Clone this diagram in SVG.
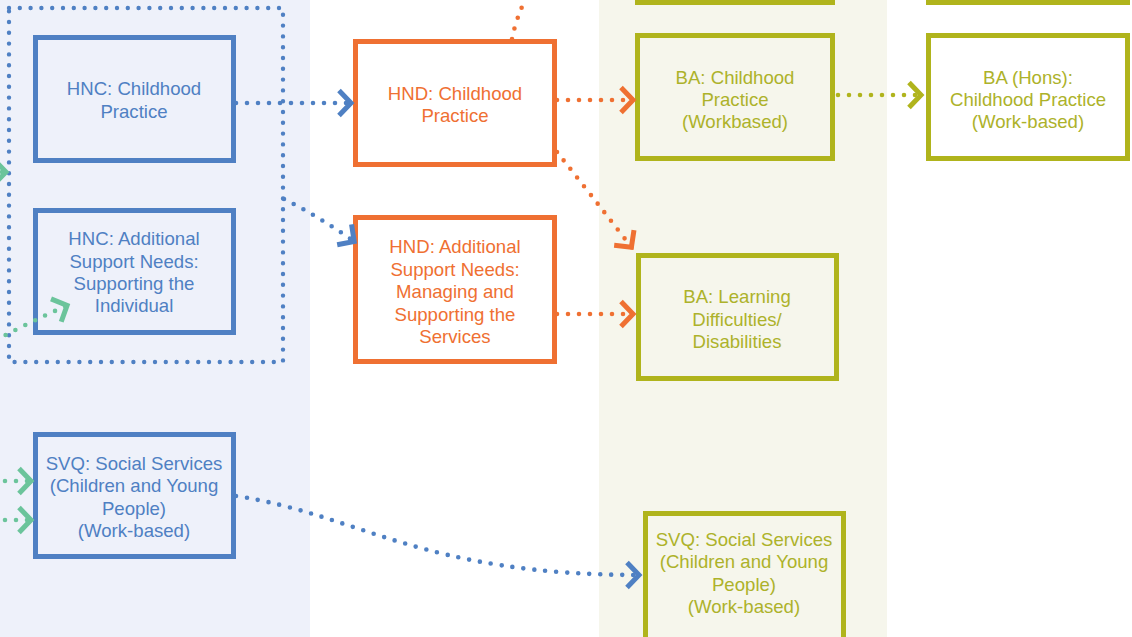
<svg xmlns="http://www.w3.org/2000/svg" width="1132" height="637" viewBox="0 0 1132 637">
<style>
text{font-family:"Liberation Sans",Arial,sans-serif;font-size:18.6px;text-anchor:middle}
.tb{fill:#4f80c3}.to{fill:#ef7032}.tg{fill:#adb22a}
.bb{fill:#eef1fa;stroke:#4f80c3;stroke-width:5}
.bo{fill:#fff;stroke:#ef7032;stroke-width:5}
.bg{fill:#f6f6ec;stroke:#b0b41c;stroke-width:5}
.bgw{fill:#fff;stroke:#b0b41c;stroke-width:5}
.d{fill:none;stroke-width:4.6;stroke-linecap:round;stroke-dasharray:0 11}
.cb{stroke:#4f80c3}.co{stroke:#ef7032}.cg{stroke:#b0b41c}.ct{stroke:#6bc49b}
</style>
<defs>
<marker id="ab" markerUnits="userSpaceOnUse" markerWidth="40" markerHeight="40" viewBox="-20 -20 40 40" refX="0" refY="0" orient="auto"><path d="M-13,-12.5 L-1,0 L-13,12.5" fill="none" stroke="#4f80c3" stroke-width="5"/></marker>
<marker id="ao" markerUnits="userSpaceOnUse" markerWidth="40" markerHeight="40" viewBox="-20 -20 40 40" refX="0" refY="0" orient="auto"><path d="M-13,-12.5 L-1,0 L-13,12.5" fill="none" stroke="#ef7032" stroke-width="5"/></marker>
<marker id="ag" markerUnits="userSpaceOnUse" markerWidth="40" markerHeight="40" viewBox="-20 -20 40 40" refX="0" refY="0" orient="auto"><path d="M-13,-12.5 L-1,0 L-13,12.5" fill="none" stroke="#b0b41c" stroke-width="5"/></marker>
<marker id="at" markerUnits="userSpaceOnUse" markerWidth="40" markerHeight="40" viewBox="-20 -20 40 40" refX="0" refY="0" orient="auto"><path d="M-13,-12.5 L-1,0 L-13,12.5" fill="none" stroke="#6bc49b" stroke-width="5"/></marker>
</defs>
<rect x="0" y="0" width="1132" height="637" fill="#fff"/>
<rect x="0" y="0" width="310" height="637" fill="#eef1fa"/>
<rect x="599" y="0" width="288" height="637" fill="#f6f6ec"/>
<g id="group-hnc"><rect x="9" y="8" width="274" height="354" fill="none" stroke="#4f80c3" stroke-width="4.4" stroke-linecap="round" stroke-dasharray="0 10.8"/></g>
<g id="top-left-box"><rect x="637.5" y="-120" width="195" height="122.5" class="bg"/></g>
<g id="top-right-box"><rect x="928.5" y="-120" width="199" height="122.5" class="bgw"/></g>
<g id="hnc-cp"><rect x="35.5" y="37.5" width="198" height="123" class="bb"/><text class="tb" x="134" y="95">HNC: Childhood</text><text class="tb" x="134" y="118">Practice</text></g>
<g id="hnc-asn"><rect x="35.5" y="210.5" width="198" height="122" class="bb"/><text class="tb" x="134" y="245">HNC: Additional</text><text class="tb" x="134" y="267.5">Support Needs:</text><text class="tb" x="134" y="290">Supporting the</text><text class="tb" x="134" y="312">Individual</text></g>
<g id="svq-left"><rect x="35.5" y="434.5" width="198" height="122" class="bb"/><text class="tb" x="134" y="470">SVQ: Social Services</text><text class="tb" x="134" y="492">(Children and Young</text><text class="tb" x="134" y="515">People)</text><text class="tb" x="134" y="537">(Work-based)</text></g>
<g id="hnd-cp"><rect x="355.5" y="41.5" width="199" height="123" class="bo"/><text class="to" x="455" y="100">HND: Childhood</text><text class="to" x="455" y="122">Practice</text></g>
<g id="hnd-asn"><rect x="355.5" y="217.5" width="199" height="144" class="bo"/><text class="to" x="455" y="253">HND: Additional</text><text class="to" x="455" y="275.5">Support Needs:</text><text class="to" x="455" y="298">Managing and</text><text class="to" x="455" y="320.5">Supporting the</text><text class="to" x="455" y="343">Services</text></g>
<g id="ba-cp"><rect x="637.5" y="35.5" width="195" height="123" class="bg"/><text class="tg" x="735" y="84">BA: Childhood</text><text class="tg" x="735" y="106">Practice</text><text class="tg" x="735" y="128">(Workbased)</text></g>
<g id="ba-hons"><rect x="928.5" y="35.5" width="199" height="123" class="bgw"/><text class="tg" x="1028" y="84">BA (Hons):</text><text class="tg" x="1028" y="106">Childhood Practice</text><text class="tg" x="1028" y="128">(Work-based)</text></g>
<g id="ba-ld"><rect x="638.5" y="255.5" width="198" height="123" class="bg"/><text class="tg" x="737" y="303">BA: Learning</text><text class="tg" x="737" y="326">Difficulties/</text><text class="tg" x="737" y="348">Disabilities</text></g>
<g id="svq-right"><rect x="645.5" y="513.5" width="198" height="140" class="bg"/><text class="tg" x="744" y="546">SVQ: Social Services</text><text class="tg" x="744" y="568">(Children and Young</text><text class="tg" x="744" y="591">People)</text><text class="tg" x="744" y="613">(Work-based)</text></g>
<g id="connectors">
<path class="d cb" d="M236,103 L352,103" marker-end="url(#ab)"/>
<path class="d cb" d="M284,199 Q318,216 355,242" marker-end="url(#ab)"/>
<path class="d co" d="M557,100 L634,100" marker-end="url(#ao)"/>
<path class="d co" d="M557,152 Q592,196 632,248" marker-end="url(#ao)"/>
<path class="d co" d="M557,314 L634,314" marker-end="url(#ao)"/>
<path class="d cg" d="M838,95 L922,95" marker-end="url(#ag)"/>
<path class="d co" d="M512,39 Q516,18 527,-4"/>
<path class="d ct" d="M-20,172 L7,172" marker-end="url(#at)"/>
<path class="d ct" d="M-4,340 Q30,322 68,305" marker-end="url(#at)"/>
<path class="d ct" d="M-6,481 L32,481" marker-end="url(#at)"/>
<path class="d ct" d="M-6,520 L32,520" marker-end="url(#at)"/>
<path class="d cb" d="M236,496 C360,515 420,575 640,575" marker-end="url(#ab)"/>
</g>
</svg>
